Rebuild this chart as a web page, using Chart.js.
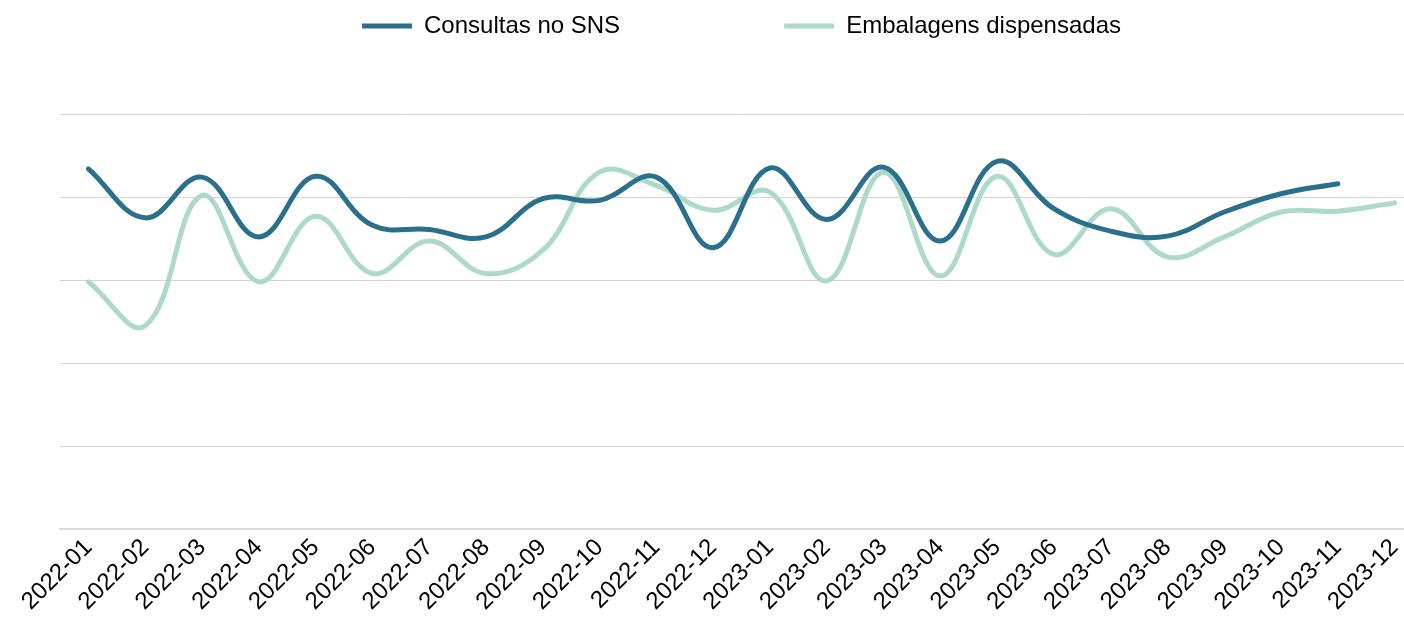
<!DOCTYPE html>
<html>
<head>
<meta charset="utf-8">
<script src="https://cdn.jsdelivr.net/npm/chart.js@4.4.1/dist/chart.umd.min.js"></script>
<style>
  html, body { margin: 0; padding: 0; background: #fff; overflow: hidden; }
  #wrap { width: 1404px; height: 627px; overflow: hidden; position: relative; }
  #box { width: 1424px; height: 627px; position: absolute; left: 0; top: 0; }
</style>
</head>
<body>
<div id="wrap"><div id="box"><canvas id="c"></canvas></div></div>
<script>
const categories = ["2022-01","2022-02","2022-03","2022-04","2022-05","2022-06","2022-07","2022-08","2022-09","2022-10","2022-11","2022-12",
                    "2023-01","2023-02","2023-03","2023-04","2023-05","2023-06","2023-07","2023-08","2023-09","2023-10","2023-11","2023-12"];
const consultas = [4.34, 3.75, 4.24, 3.52, 4.25, 3.66, 3.61, 3.52, 3.98, 3.96, 4.24, 3.39,
                   4.35, 3.73, 4.36, 3.47, 4.43, 3.86, 3.59, 3.53, 3.82, 4.04, 4.16, null];
const embalagens = [2.98, 2.45, 4.02, 2.98, 3.77, 3.08, 3.47, 3.08, 3.36, 4.30, 4.14, 3.84,
                    4.06, 2.99, 4.30, 3.05, 4.25, 3.31, 3.86, 3.28, 3.52, 3.82, 3.83, 3.93];
const seriesNames = ["Consultas no SNS", "Embalagens dispensadas"];

const FONT = "'Liberation Sans', 'DejaVu Sans', sans-serif";
const LEGEND_PAD = 164;
const TOP_SHIFT = -150;

const legendHeightPlugin = {
  id: 'legendHeight',
  afterInit(chart) {
    const lg = chart.legend;
    if (!lg) return;
    const orig = lg.fit;
    lg.fit = function () {
      orig.call(this);
      this.height = 114 - TOP_SHIFT;
    };
  }
};

new Chart(document.getElementById('c'), {
  type: 'line',
  data: {
    labels: categories,
    datasets: [
      {
        label: seriesNames[0],
        data: consultas,
        borderColor: '#2a708c',
        backgroundColor: '#2a708c',
        borderWidth: 5,
        tension: 0.4,
        pointRadius: 0,
        borderCapStyle: 'round',
        fill: false
      },
      {
        label: seriesNames[1],
        data: embalagens,
        borderColor: '#acd9ca',
        backgroundColor: '#acd9ca',
        borderWidth: 5,
        tension: 0.4,
        pointRadius: 0,
        borderCapStyle: 'round',
        fill: false
      }
    ]
  },
  options: {
    responsive: true,
    maintainAspectRatio: false,
    animation: false,
    layout: { padding: { left: 60, right: 1, top: TOP_SHIFT, bottom: 7 } },
    plugins: {
      legend: {
        position: 'top',
        labels: {
          usePointStyle: true,
          pointStyle: 'line',
          pointStyleWidth: 50,
          padding: LEGEND_PAD,
          color: '#000',
          font: { family: FONT, size: 24 }
        }
      },
      tooltip: { enabled: false }
    },
    scales: {
      x: {
        offset: true,
        grid: { display: false, drawTicks: false },
        border: { display: true, color: '#d9d9d9', width: 2 },
        ticks: {
          color: '#000',
          font: { family: FONT, size: 24 },
          maxRotation: 45,
          minRotation: 45,
          autoSkip: false,
          padding: 4
        }
      },
      y: {
        min: 0,
        max: 5,
        ticks: { display: false, stepSize: 1 },
        border: { display: false },
        grid: {
          drawTicks: false,
          color: (ctx) => ctx.tick && ctx.tick.value === 0 ? 'rgba(0,0,0,0)' : '#d4d4d4',
          lineWidth: 1,
          borderDash: [2, 2]
        }
      }
    }
  },
  plugins: [legendHeightPlugin]
});
</script>
</body>
</html>
